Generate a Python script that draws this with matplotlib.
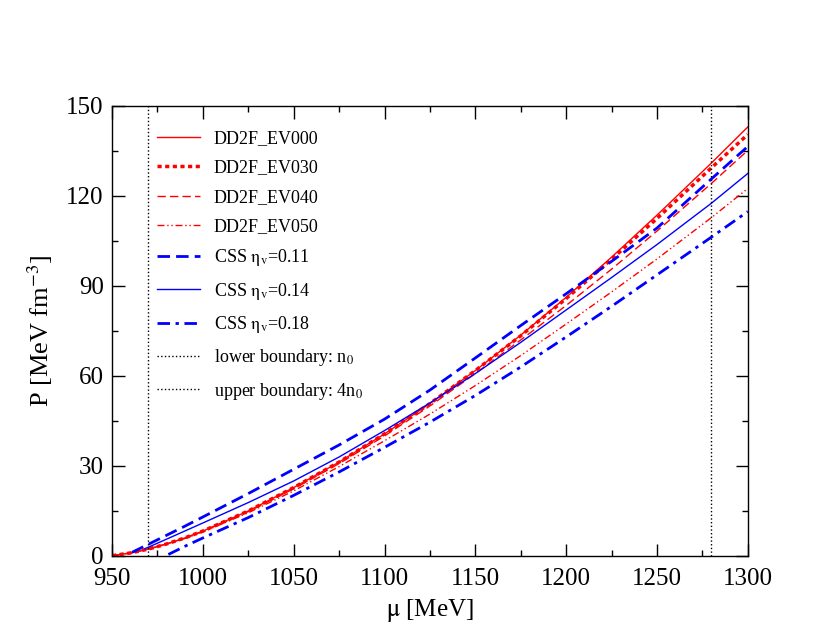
import numpy as np
import matplotlib
matplotlib.use('Agg')
import matplotlib.pyplot as plt

plt.rcParams['font.family'] = ['Liberation Serif', 'DejaVu Serif']
plt.rcParams['mathtext.fontset'] = 'stix'

# pressure vs chemical potential
mu_red = [950, 960, 970, 980, 990, 1000, 1025, 1050, 1075, 1100, 1125, 1150,
          1175, 1200, 1225, 1250, 1280, 1300]
ev000 = [0.1, 1.0, 2.3, 4.0, 6.0, 8.3, 15.0, 22.8, 31.3, 40.7, 50.8, 61.8,
         73.6, 86.2, 99.6, 113.6, 131.0, 143.0]
ev030 = [0.1, 1.0, 2.3, 4.0, 6.0, 8.3, 15.0, 22.8, 31.3, 40.7, 50.8, 61.8,
         73.4, 85.8, 98.9, 112.5, 129.4, 140.5]
ev040 = [0.1, 1.0, 2.3, 4.0, 5.9, 8.2, 14.8, 22.4, 30.8, 40.0, 50.0, 60.8,
         72.0, 83.5, 95.6, 108.3, 124.2, 135.2]
ev050 = [0.1, 1.0, 2.3, 4.0, 5.8, 8.0, 14.4, 21.7, 29.8, 38.4, 47.3, 56.8,
         66.8, 77.3, 88.0, 99.0, 112.8, 122.5]

mu_011 = [961, 970, 980, 990, 1000, 1025, 1050, 1075, 1100, 1125, 1150, 1175,
          1200, 1225, 1250, 1280, 1300]
css011 = [1.2, 3.9, 6.9, 9.9, 13.0, 20.8, 28.9, 37.0, 45.6, 55.3, 66.0, 76.8,
          87.4, 98.2, 109.3, 125.7, 136.5]
mu_014 = [968, 980, 990, 1000, 1025, 1050, 1075, 1100, 1125, 1150, 1175, 1200,
          1225, 1250, 1280, 1300]
css014 = [2.4, 5.6, 8.3, 11.0, 17.8, 25.0, 33.0, 41.8, 51.0, 60.8, 71.2, 82.0,
          92.8, 103.8, 117.6, 127.5]
mu_018 = [981, 990, 1000, 1025, 1050, 1075, 1100, 1125, 1150, 1175, 1200,
          1225, 1250, 1280, 1300]
css018 = [0.5, 3.2, 6.0, 12.8, 20.2, 28.0, 36.2, 44.6, 53.5, 63.0, 73.0,
          83.2, 93.7, 106.3, 114.8]

mu_low = 970   # n0
mu_up = 1280   # 4 n0

fig = plt.figure(figsize=(8.30, 6.42), dpi=100)
ax = fig.add_axes([0.135, 0.134, 0.766, 0.701])

ax.plot(mu_red, ev000, color='red', lw=1.0, label='DD2F_EV000')
ax.plot(mu_red, ev030, color='red', lw=2.5, dashes=(1.2, 1.0), label='DD2F_EV030')
ax.plot(mu_red, ev040, color='red', lw=1.0, dashes=(6, 3), label='DD2F_EV040')
ax.plot(mu_red, ev050, color='red', lw=1.0, dashes=(5, 2, 1, 2, 1, 2), label='DD2F_EV050')
ax.plot(mu_011, css011, color='blue', lw=2.0, dashes=(4.5, 2.2), label=r'CSS $\mathrm{\eta}_{\mathrm{v}}$=0.11')
ax.plot(mu_014, css014, color='blue', lw=1.0, label=r'CSS $\mathrm{\eta}_{\mathrm{v}}$=0.14')
ax.plot(mu_018, css018, color='blue', lw=2.0, dashes=(4.5, 2, 1.2, 2), label=r'CSS $\mathrm{\eta}_{\mathrm{v}}$=0.18')
ax.axvline(mu_low, color='black', lw=1.0, ls=':', label=r'lower boundary: n$_0$')
ax.axvline(mu_up, color='black', lw=1.0, ls=':', label=r'upper boundary: 4n$_0$')

ax.set_xlim(950, 1300)
ax.set_ylim(0, 150)
ax.set_xticks(np.arange(950, 1301, 50))
ax.set_xticks(np.arange(950, 1301, 25), minor=True)
ax.set_yticks(np.arange(0, 151, 30))
ax.set_yticks(np.arange(0, 151, 15), minor=True)
ax.tick_params(which='both', direction='in', top=True, right=True, labelsize=18, width=1.0)
ax.tick_params(which='major', length=9)
ax.tick_params(which='minor', length=4.5)
ax.tick_params(axis='x', pad=9)
ax.tick_params(axis='y', pad=6)
for s in ax.spines.values():
    s.set_linewidth(1.0)

ax.set_xlabel(r'$\mathrm{\mu}$ [MeV]', fontsize=18, labelpad=5)
ax.set_ylabel(r'P [MeV fm$^{-3}$]', fontsize=19, labelpad=8)

ax.legend(loc='upper left', bbox_to_anchor=(0.045, 0.982), frameon=False,
          fontsize=13, handlelength=2.4, handletextpad=0.75, labelspacing=0.68)

plt.savefig('out.png', dpi=100)
